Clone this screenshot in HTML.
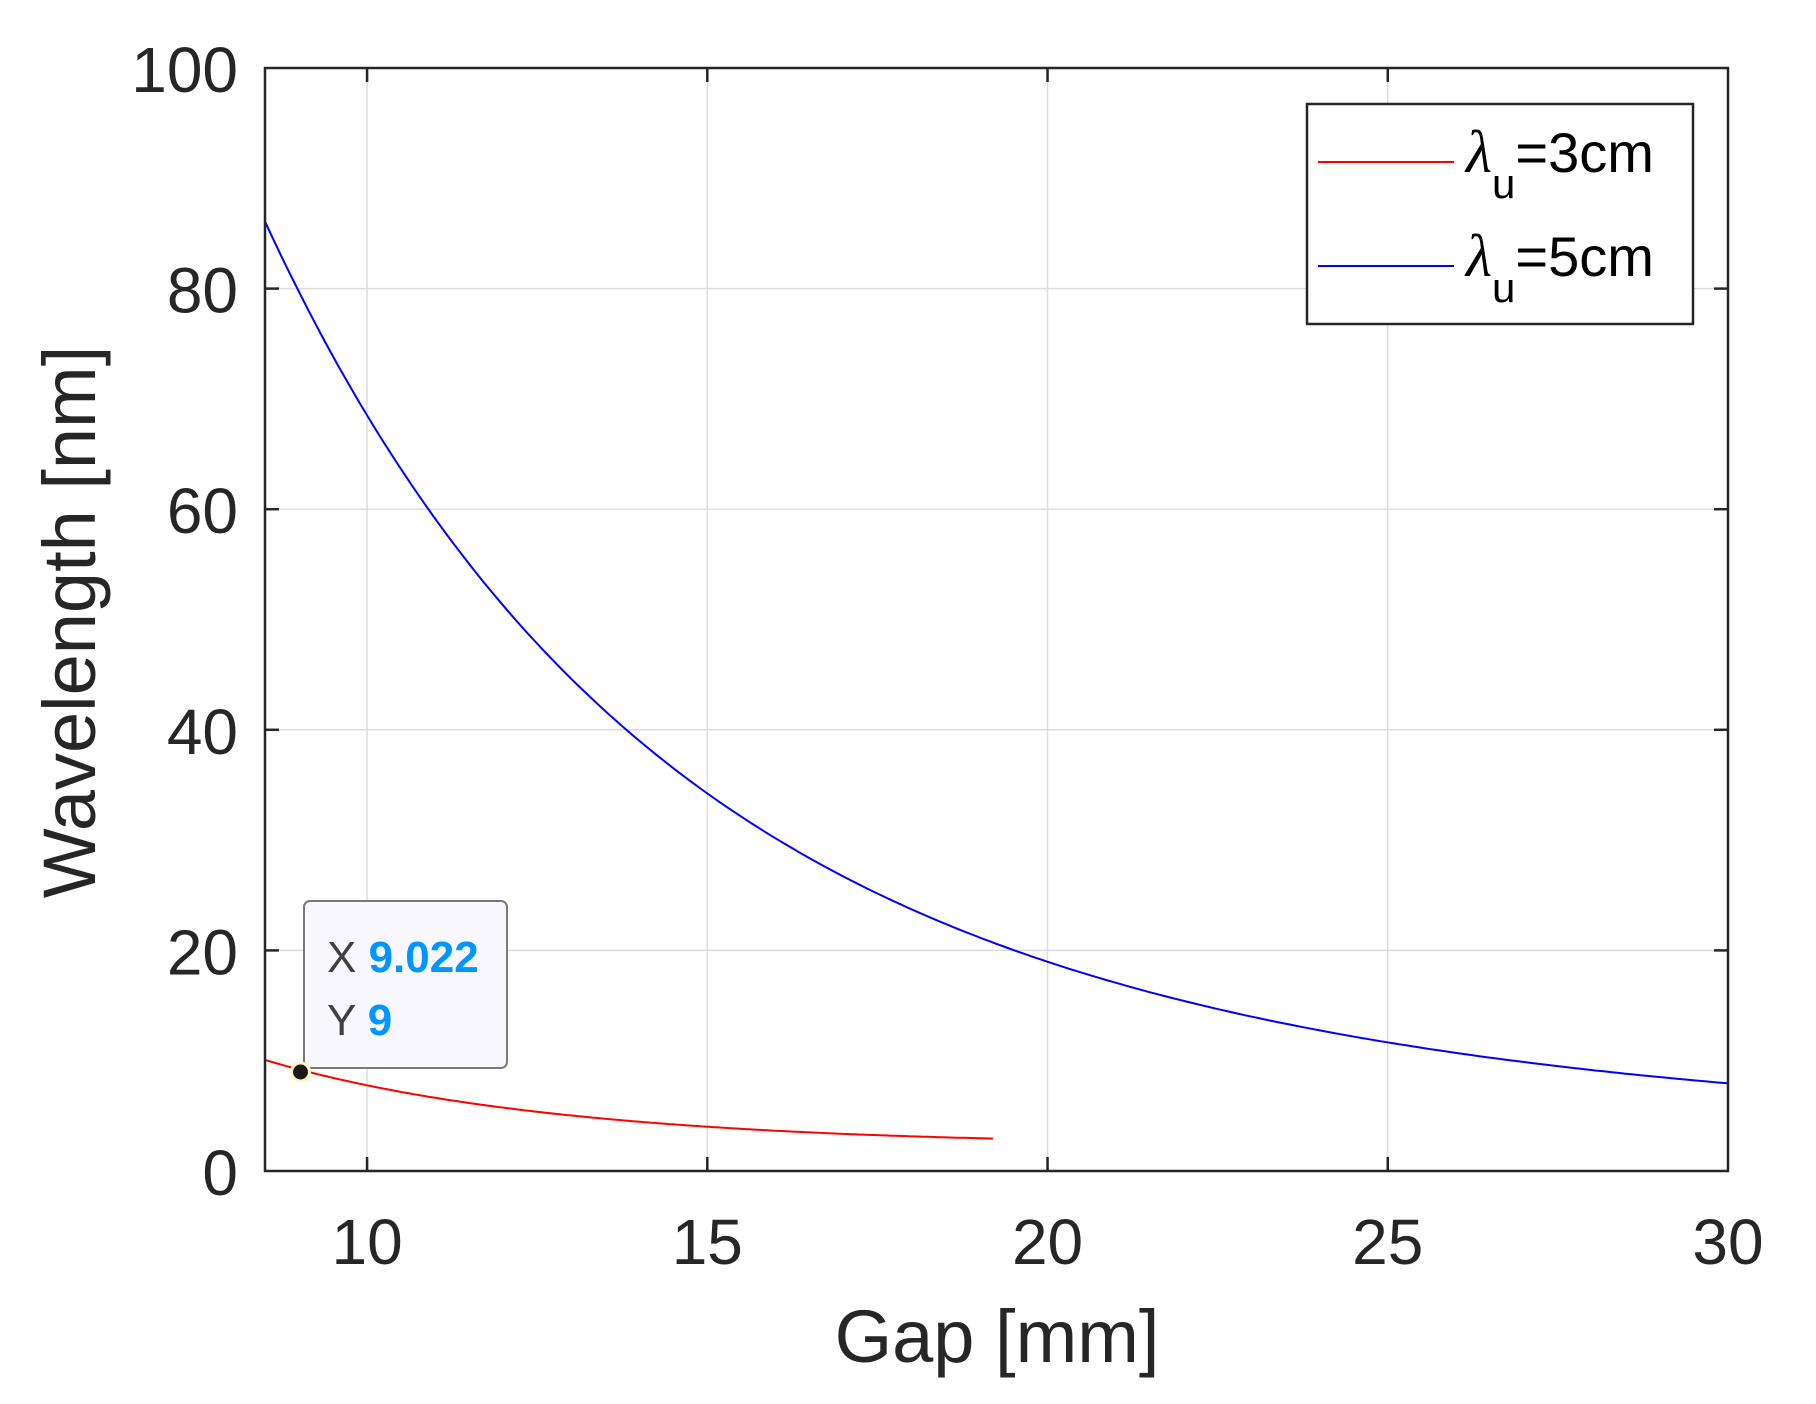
<!DOCTYPE html>
<html><head><meta charset="utf-8"><style>html,body{margin:0;padding:0;background:#fff}svg{display:block}</style></head>
<body>
<svg id="s" width="1816" height="1404" viewBox="0 0 1816 1404" xmlns="http://www.w3.org/2000/svg" font-family="Liberation Sans, Arial, sans-serif">
<rect width="1816" height="1404" fill="#fff"/>
<g id="grid" stroke="#dcdcdc" stroke-width="1.5"></g>
<g id="curves" fill="none" stroke-width="2"></g>
<rect x="265" y="68" width="1463" height="1103" fill="none" stroke="#262626" stroke-width="2.5"/>
<g id="ticks" stroke="#262626" stroke-width="2.5"></g>
<g id="labels" fill="#262626" font-size="64"></g>
<text x="997" y="1362" font-size="74" fill="#262626" text-anchor="middle">Gap [mm]</text>
<text transform="translate(95,622) rotate(-90)" font-size="74" fill="#262626" text-anchor="middle">Wavelength [nm]</text>
<!-- legend -->
<rect x="1307" y="104" width="386" height="220" fill="#fff" stroke="#262626" stroke-width="2.5"/>
<line x1="1318" y1="162" x2="1454" y2="162" stroke="#ff0000" stroke-width="2"/>
<line x1="1318" y1="266" x2="1454" y2="266" stroke="#0000ff" stroke-width="2"/>
<text x="1466" y="172" font-size="56" fill="#000"><tspan font-family="Liberation Serif, serif" font-style="italic" font-size="60">λ</tspan><tspan font-size="42" dy="26">u</tspan><tspan dy="-26">=3cm</tspan></text>
<text x="1466" y="276" font-size="56" fill="#000"><tspan font-family="Liberation Serif, serif" font-style="italic" font-size="60">λ</tspan><tspan font-size="42" dy="26">u</tspan><tspan dy="-26">=5cm</tspan></text>
<!-- datatip -->
<rect x="304" y="901" width="203" height="167" rx="6" fill="#f8f8fe" stroke="#7a7a7a" stroke-width="2"/>
<text x="327" y="972" font-size="44" fill="#404040">X <tspan fill="#0096ff" font-weight="bold">9.022</tspan></text>
<text x="327" y="1035" font-size="44" fill="#404040">Y <tspan fill="#0096ff" font-weight="bold">9</tspan></text>
<circle cx="300.5" cy="1072" r="9" fill="#1a1a1a" stroke="#fff8c0" stroke-width="3"/>
</svg>
<script>
var L=265,T=68,R=1728,B=1171,x0=8.5,x1=30;
function X(v){return L+(v-x0)/(x1-x0)*(R-L);}
function Y(v){return B-v/100*(B-T);}
var ns="http://www.w3.org/2000/svg";
function el(p,t,a,txt){var e=document.createElementNS(ns,t);for(var k in a)e.setAttribute(k,a[k]);if(txt!==undefined)e.textContent=txt;document.getElementById(p).appendChild(e);}
[10,15,20,25].forEach(function(v){var x=X(v);el('grid','line',{x1:x,y1:T,x2:x,y2:B});el('ticks','line',{x1:x,y1:B,x2:x,y2:B-14});el('ticks','line',{x1:x,y1:T,x2:x,y2:T+14});});
[20,40,60,80].forEach(function(v){var y=Y(v);el('grid','line',{x1:L,y1:y,x2:R,y2:y});el('ticks','line',{x1:L,y1:y,x2:L+14,y2:y});el('ticks','line',{x1:R,y1:y,x2:R-14,y2:y});});
[10,15,20,25,30].forEach(function(v){el('labels','text',{x:X(v),y:1264,'text-anchor':'middle'},String(v));});
[0,20,40,60,80,100].forEach(function(v){el('labels','text',{x:238,y:Y(v)+24,'text-anchor':'end'},String(v));});
function path(f,a,b){var d='';for(var i=0;i<=200;i++){var x=a+(b-a)*i/200;d+=(i?'L':'M')+X(x).toFixed(1)+' '+Y(f(x)).toFixed(1);}return d;}
el('curves','path',{d:path(function(x){return Math.exp(5.925-0.1905*x+0.00207*x*x);},8.5,30),stroke:'#0000ff'});
el('curves','path',{d:path(function(x){return Math.exp(4.315-0.2895*x+0.0063*x*x);},8.5,19.2),stroke:'#ff0000'});
</script>
</body></html>
